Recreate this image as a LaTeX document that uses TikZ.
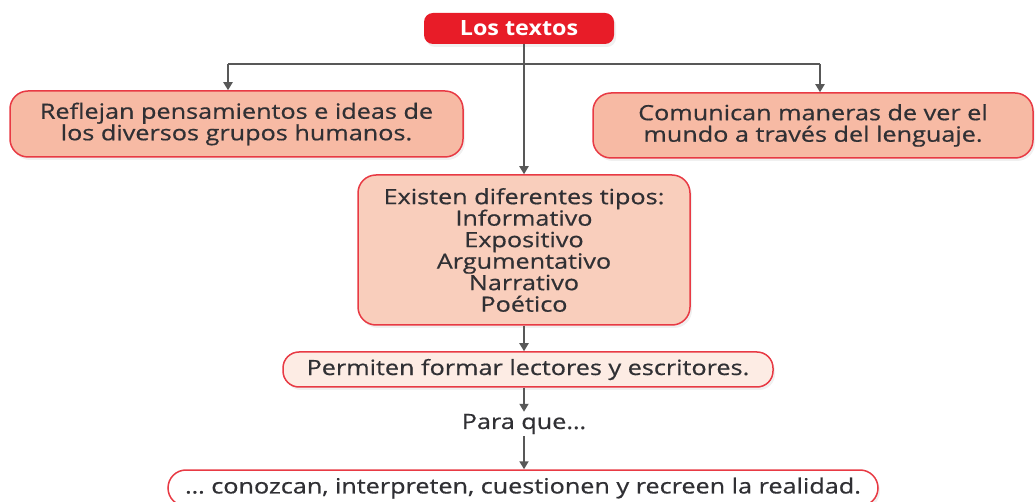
\documentclass[tikz,border=0pt]{standalone}
\usepackage{fontspec}
\setmainfont{Open Sans}
\newfontfamily\mapfont[FakeStretch=1.2,FakeBold=0.6]{Open Sans}
\newfontfamily\mapboldfont[FakeStretch=1.11]{Open Sans Bold}
\usetikzlibrary{arrows.meta,positioning,shadows}

\definecolor{titlered}{RGB}{232,28,40}
\definecolor{boxline}{RGB}{232,58,68}
\definecolor{salmon}{RGB}{247,186,164}
\definecolor{lightsalmon}{RGB}{249,206,188}
\definecolor{palepink}{RGB}{253,236,228}
\definecolor{linegray}{RGB}{88,88,88}
\definecolor{textgray}{RGB}{48,48,52}

\tikzset{
  concept/.style={draw=boxline, line width=1.5pt, rounded corners=18pt,
    text=textgray, align=center, inner sep=0pt,
    font=\mapfont\fontsize{21}{21.5}\selectfont,
    drop shadow={opacity=0.12, shadow xshift=2pt, shadow yshift=-3pt}},
  titlebox/.style={fill=titlered, rounded corners=9pt, text=white,
    font=\mapboldfont\fontsize{21}{21}\selectfont, inner sep=0pt,
    drop shadow={opacity=0.12, shadow xshift=2pt, shadow yshift=-3pt}},
  link/.style={draw=linegray, line width=1.8pt, -{Triangle[width=9pt,length=8pt]}},
  branch/.style={draw=linegray, line width=1.8pt}
}

\begin{document}
\begin{tikzpicture}[x=1pt, y=-1pt]
  \useasboundingbox (0,0) rectangle (1036,502);

  % top of the map
  \node[titlebox, minimum width=190pt, minimum height=31pt] (titulo) at (519,28.5) {Los textos};

  % two side ideas
  \node[concept, fill=salmon, minimum width=453pt, minimum height=66pt] (refleja) at (236.5,124)
    {Reflejan pensamientos e ideas de\\los diversos grupos humanos.};
  \node[concept, fill=salmon, minimum width=440pt, minimum height=65pt] (comunica) at (813,125.5)
    {Comunican maneras de ver el\\mundo a través del lenguaje.};

  % types of texts
  \node[concept, fill=lightsalmon, minimum width=332pt, minimum height=150pt] (tipos) at (524,250)
    {Existen diferentes tipos:\\Informativo\\Expositivo\\Argumentativo\\Narrativo\\Poético};

  \node[concept, fill=palepink, minimum width=490pt, minimum height=35pt, rounded corners=16pt] (permiten) at (528,369.5)
    {Permiten formar lectores y escritores.};
  \node[text=textgray, font=\mapfont\fontsize{21}{21.5}\selectfont, inner sep=2pt] (paraque) at (524,424) {Para que…};
  \node[concept, fill=white, minimum width=710pt, minimum height=36pt] (realidad) at (523,488)
    {… conozcan, interpreten, cuestionen y recreen la realidad.};

  % connectors
  \coordinate (split) at (524,64);
  \coordinate (izq) at (228,64);
  \coordinate (der) at (820,64);
  \draw[branch] (izq) -- (der);
  \draw[link] (titulo.south -| tipos.north) -- (tipos.north);
  \draw[link] (izq) -- (izq |- refleja.north);
  \draw[link] (der) -- (der |- comunica.north);
  \draw[link] (tipos.south) -- (tipos.south |- permiten.north);
  \draw[link] (tipos.south |- permiten.south) -- (tipos.south |- paraque.north);
  \draw[link] (tipos.south |- paraque.south) -- (tipos.south |- realidad.north);
\end{tikzpicture}
\end{document}
